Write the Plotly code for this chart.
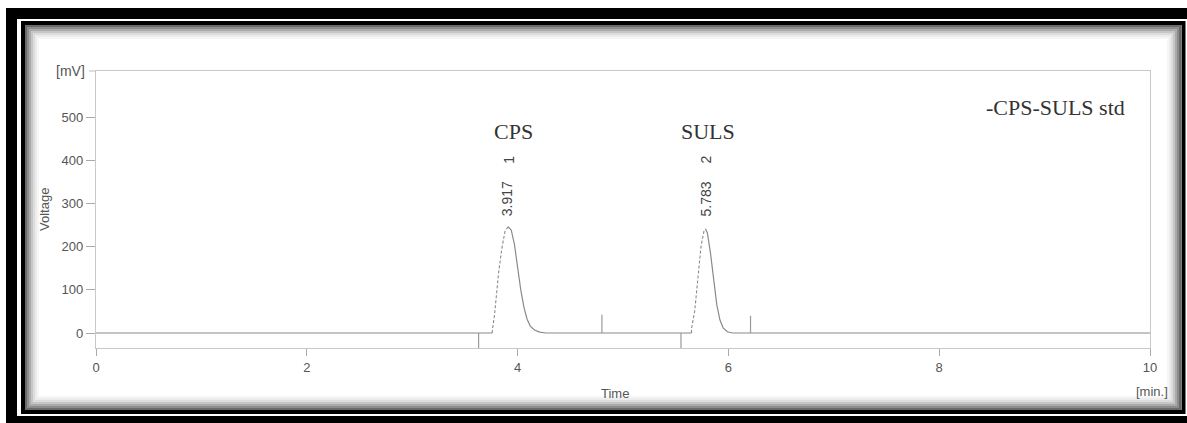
import plotly.graph_objects as go

W, H = 1187, 423

# ---- data ----
baseline_t = [0.0, 3.76]
baseline_v = [0.0, 0.0]

cps_rise_t = [3.76, 3.78, 3.80, 3.82, 3.85, 3.88, 3.91]
cps_rise_v = [6, 40, 95, 140, 195, 235, 246]
cps_fall_t = [3.91, 3.94, 3.97, 4.00, 4.03, 4.06, 4.09, 4.12, 4.16, 4.21, 4.27]
cps_fall_v = [246, 238, 205, 150, 100, 60, 32, 16, 7, 2, 0]

mid_t = [4.27, 5.65]
mid_v = [0, 0]

suls_rise_t = [5.65, 5.68, 5.71, 5.74, 5.77, 5.783]
suls_rise_v = [10, 50, 125, 200, 238, 241]
suls_fall_t = [5.783, 5.80, 5.83, 5.86, 5.89, 5.92, 5.95, 5.99, 6.04]
suls_fall_v = [241, 232, 185, 120, 65, 30, 12, 3, 0]

tail_t = [6.04, 10.0]
tail_v = [0, 0]

marker_t = [3.63, 4.80, 5.55, 6.21]
marker_v = [-35, 42, -35, 40]

peak_names = ["CPS", "SULS"]
peak_rt = ["3.917", "5.783"]
peak_no = ["1", "2"]
peak_x = [3.917, 5.783]

x_ticks = [0, 2, 4, 6, 8, 10]
y_ticks = [0, 100, 200, 300, 400, 500]

sample_name = "-CPS-SULS std"

# ---- build ----
solid_t = baseline_t + [None] + cps_fall_t + mid_t + [None] + suls_fall_t + tail_t
solid_v = baseline_v + [None] + cps_fall_v + mid_v + [None] + suls_fall_v + tail_v
# join rising edges to baseline
rise_t = [baseline_t[-1]] + cps_rise_t + [None] + [mid_t[-1]] + suls_rise_t
rise_v = [baseline_v[-1]] + cps_rise_v + [None] + [mid_v[-1]] + suls_rise_v

mx, my = [], []
for t, v in zip(marker_t, marker_v):
    mx += [t, t, None]
    my += [0, v, None]

fig = go.Figure()
fig.add_trace(go.Scatter(x=solid_t, y=solid_v, mode="lines", connectgaps=False,
                         line=dict(color="#8a8a8a", width=1.2), hoverinfo="skip"))
fig.add_trace(go.Scatter(x=rise_t, y=rise_v, mode="lines", connectgaps=False,
                         line=dict(color="#8a8a8a", width=1.1, dash="3px,2px"), hoverinfo="skip"))
fig.add_trace(go.Scatter(x=mx, y=my, mode="lines",
                         line=dict(color="#9a9a9a", width=1.2), hoverinfo="skip"))


def px(x):
    return x / W


def py(y):
    return 1 - y / H


shapes = []
# outer thick black frame
shapes.append(dict(type="rect", xref="paper", yref="paper", x0=px(6), x1=px(17), y0=py(423), y1=py(8),
                   fillcolor="black", line=dict(width=0)))
shapes.append(dict(type="rect", xref="paper", yref="paper", x0=px(6), x1=px(1187), y0=py(19), y1=py(8),
                   fillcolor="black", line=dict(width=0)))
shapes.append(dict(type="rect", xref="paper", yref="paper", x0=px(6), x1=px(1187), y0=py(423), y1=py(416),
                   fillcolor="black", line=dict(width=0)))
# inner shadow gradient
shadow_cols = ["#6a6a6a", "#8c8c8c", "#aaaaaa", "#c6c6c6", "#dcdcdc", "#ececec", "#f6f6f6"]
for i, c in enumerate(shadow_cols):
    o = 26 + 2 * i
    shapes.append(dict(type="rect", xref="paper", yref="paper",
                       x0=px(o), x1=px(1180 - 2 * i), y0=py(409 - 2 * i), y1=py(o),
                       line=dict(color=c, width=2)))
# inner thin black frame
shapes.append(dict(type="rect", xref="paper", yref="paper", x0=px(23), x1=px(1183.5), y0=py(412), y1=py(23),
                   line=dict(color="black", width=4)))
# top line extending left of the axis
shapes.append(dict(type="line", xref="paper", yref="paper", x0=px(89), x1=px(96), y0=py(71), y1=py(71),
                   line=dict(color="#c8c8c8", width=1.2)))
fig.update_layout(shapes=shapes)

tick_font = dict(family="Liberation Sans, Arial, sans-serif", size=13, color="#555555")
serif = "Liberation Serif, Times New Roman, serif"
name_dx = [0.04, 0.02]
rt_dx = [-0.015, 0.0]
no_dx = [0.0, 0.0]

ann = []
for name, rt, no, xv, ndx, rdx, odx in zip(peak_names, peak_rt, peak_no, peak_x, name_dx, rt_dx, no_dx):
    ann.append(dict(x=xv + ndx, y=py(131), xref="x", yref="paper", text=name, showarrow=False,
                    xanchor="center", yanchor="middle",
                    font=dict(family=serif, size=22, color="#333333")))
    ann.append(dict(x=xv + rdx, y=py(199), xref="x", yref="paper", text=rt, showarrow=False, textangle=-90,
                    xanchor="center", yanchor="middle",
                    font=dict(family="Liberation Sans, Arial, sans-serif", size=14, color="#444444")))
    ann.append(dict(x=xv + odx, y=py(160), xref="x", yref="paper", text=no, showarrow=False, textangle=-90,
                    xanchor="center", yanchor="middle",
                    font=dict(family="Liberation Sans, Arial, sans-serif", size=14, color="#444444")))
ann.append(dict(x=px(1127), y=py(108), xref="paper", yref="paper", xanchor="right", yanchor="middle",
                text=sample_name, showarrow=False, font=dict(family=serif, size=22, color="#333333")))
ann.append(dict(x=px(87), y=py(71), xref="paper", yref="paper", xanchor="right", yanchor="middle",
                text="[mV]", showarrow=False, font=dict(family=tick_font["family"], size=14, color="#555555")))
ann.append(dict(x=px(1152), y=py(391), xref="paper", yref="paper", xanchor="center", yanchor="middle",
                text="[min.]", showarrow=False, font=tick_font))
ann.append(dict(x=px(615), y=py(393), xref="paper", yref="paper", xanchor="center", yanchor="middle",
                text="Time", showarrow=False, font=tick_font))
ann.append(dict(x=px(44), y=py(210), xref="paper", yref="paper", xanchor="center", yanchor="middle",
                text="Voltage", textangle=-90, showarrow=False, font=tick_font))
fig.update_layout(annotations=ann)

fig.update_layout(
    width=W, height=H, autosize=False,
    margin=dict(l=0, r=0, t=0, b=0, pad=0),
    paper_bgcolor="white", plot_bgcolor="white",
    showlegend=False,
    xaxis=dict(domain=[px(96), px(1150)], range=[0, 10], tickvals=x_ticks, automargin=False,
               ticktext=[str(v) for v in x_ticks], ticks="outside", ticklen=7, tickcolor="#aaaaaa",
               showline=True, linecolor="#c8c8c8", linewidth=1.2, mirror=True,
               showgrid=False, zeroline=False, tickfont=tick_font),
    yaxis=dict(domain=[py(348), py(71)], range=[-34.7, 606.5], tickvals=y_ticks, automargin=False,
               ticktext=[str(v) for v in y_ticks], ticks="outside", ticklen=9, tickcolor="#aaaaaa",
               showline=True, linecolor="#c8c8c8", linewidth=1.2, mirror=True,
               showgrid=False, zeroline=False, tickfont=tick_font),
)

fig.write_html("out.html", config={"displayModeBar": False, "responsive": False},
               post_script="document.body.style.margin='0';document.body.style.overflow='hidden';")
